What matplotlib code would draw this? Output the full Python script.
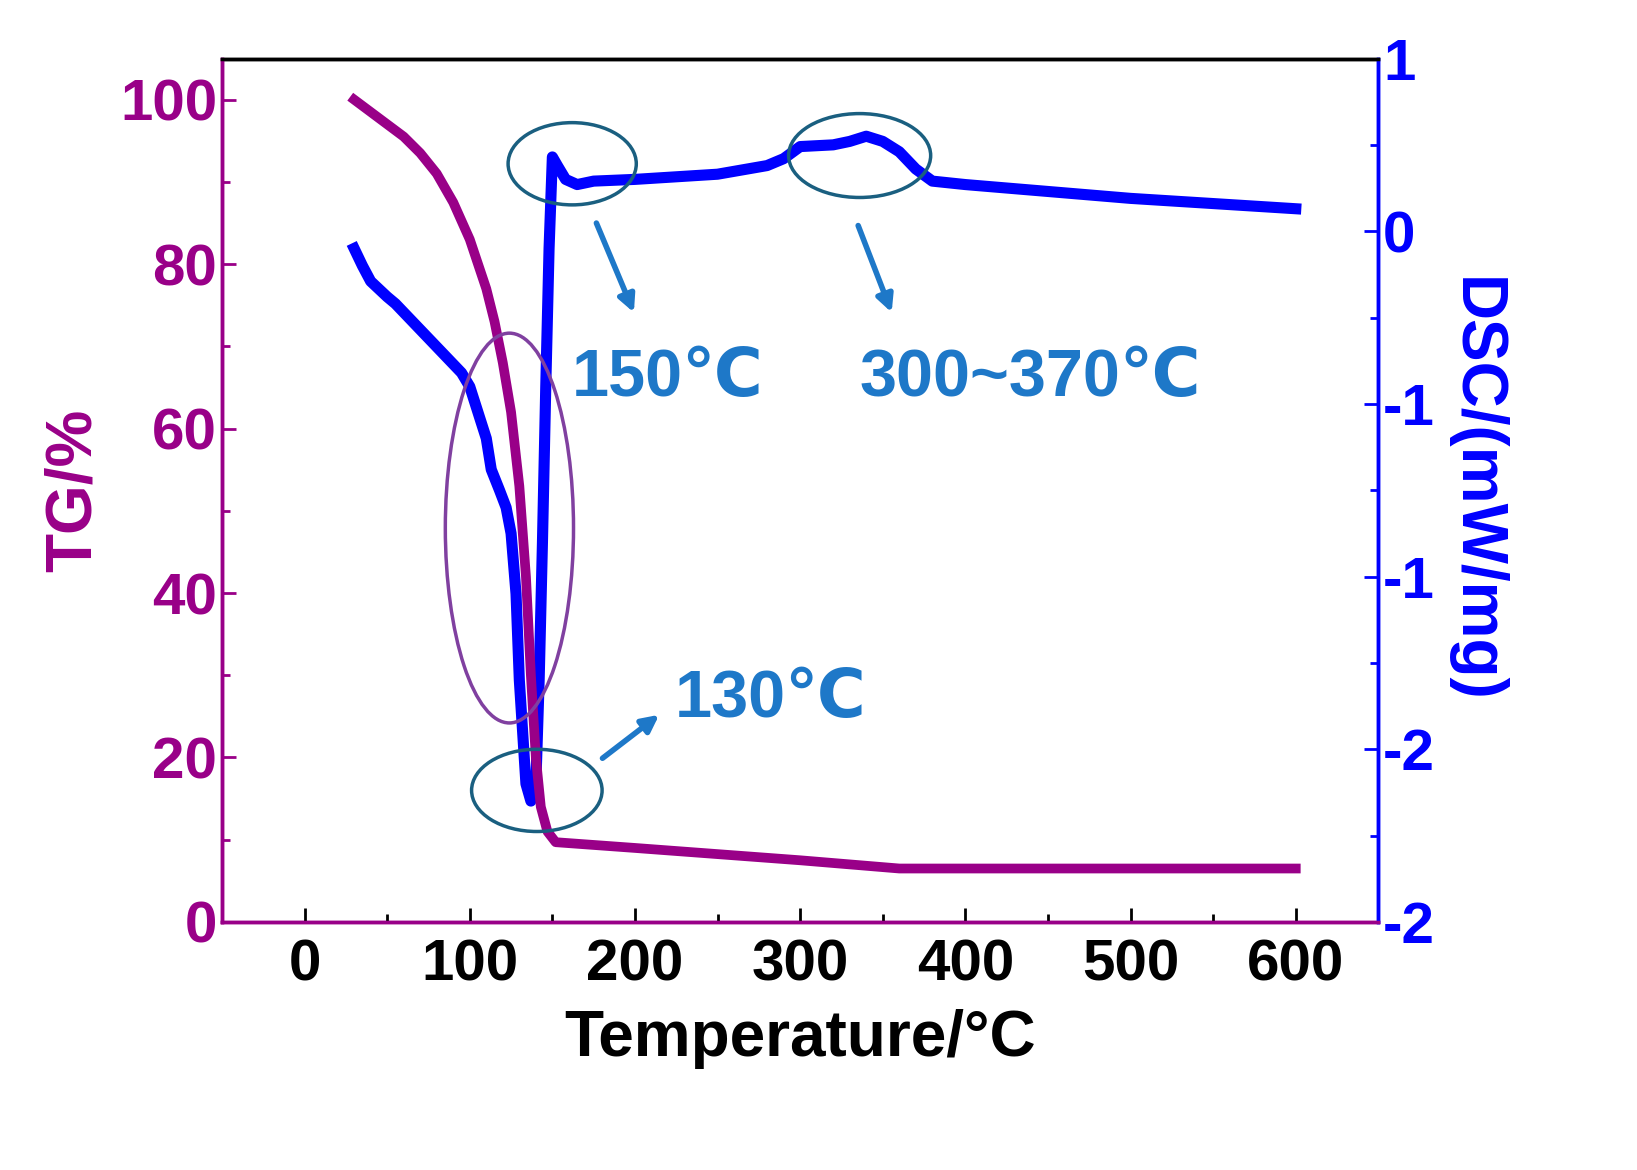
import matplotlib
matplotlib.use("Agg")
import matplotlib.pyplot as plt
from matplotlib.patches import Ellipse
from matplotlib.ticker import MultipleLocator

plt.rcParams['font.family'] = ['Liberation Sans', 'DejaVu Sans']
plt.rcParams['font.weight'] = 'bold'

tg_T = [30, 40, 50, 60, 70, 80, 90, 100, 110, 115, 120, 125, 130, 134, 137, 140, 143, 147, 152,
        200, 300, 360, 600]
tg_v = [100, 98.5, 97, 95.5, 93.5, 91, 87.5, 83, 77, 73, 68, 62, 53, 42, 30, 20, 14, 11, 9.7,
        9, 7.5, 6.5, 6.5]
dsc_T = [30, 35, 40, 50, 55, 65, 75, 85, 95, 100, 105, 110, 113, 118, 122, 125, 128, 130, 132, 134,
         137, 140, 142, 144, 146, 148, 150, 153, 158, 165, 175, 200, 250, 280, 290, 300, 320, 330,
         340, 350, 360, 370, 380, 400, 450, 500, 550, 600]
dsc_v = [-0.1, -0.2, -0.29, -0.38, -0.42, -0.52, -0.62, -0.72, -0.82, -0.9, -1.05, -1.2, -1.38, -1.5,
         -1.6, -1.75, -2.1, -2.6, -2.9, -3.2, -3.3, -3.2, -2.6, -1.8, -0.9, -0.1, 0.43, 0.38, 0.3, 0.27,
         0.29, 0.3, 0.33, 0.38, 0.42, 0.49, 0.5, 0.52, 0.55, 0.52, 0.46, 0.36, 0.29, 0.27, 0.23, 0.19,
         0.16, 0.13]
dsc_ticks = [1, 0, -1, -2, -3, -4]
dsc_labels = ['1', '0', '-1', '-1', '-2', '-2']

purple = '#990088'
blue = '#0000ff'
ann = '#1e78c8'

fig = plt.figure(figsize=(16.37, 11.7), dpi=100)
ax = fig.add_axes([0.1356, 0.212, 0.7064, 0.738])
ax2 = ax.twinx()

ax.plot(tg_T, tg_v, color=purple, lw=7, zorder=3)
ax2.plot(dsc_T, dsc_v, color=blue, lw=8)
ax.set_zorder(ax2.get_zorder() + 1)
ax.patch.set_visible(False)

ax.set_xlim(-50, 650)
ax.set_ylim(0, 105)
ax2.set_ylim(-4, 1)
ax.xaxis.set_major_locator(MultipleLocator(100))
ax.xaxis.set_minor_locator(MultipleLocator(50))
ax.yaxis.set_major_locator(MultipleLocator(20))
ax.yaxis.set_minor_locator(MultipleLocator(10))
ax2.set_yticks(dsc_ticks)
ax2.set_yticklabels(dsc_labels)
ax2.yaxis.set_minor_locator(MultipleLocator(0.5))

ax.tick_params(axis='x', which='both', direction='in', labelsize=42, pad=12, colors='black')
ax.tick_params(axis='x', which='major', length=10, width=2)
ax.tick_params(axis='x', which='minor', length=6, width=2)
ax.tick_params(axis='y', which='both', direction='in', labelsize=42, colors=purple, width=2)
ax.tick_params(axis='y', which='major', length=10)
ax.tick_params(axis='y', which='minor', length=6)
ax2.tick_params(axis='y', which='both', direction='in', labelsize=42, colors=blue, width=2)
ax2.tick_params(axis='y', which='major', length=10)
ax2.tick_params(axis='y', which='minor', length=6)
for lab in ax.get_xticklabels() + ax.get_yticklabels() + ax2.get_yticklabels():
    lab.set_fontweight('bold')

for a in (ax, ax2):
    a.spines['left'].set_color(purple)
    a.spines['right'].set_color(blue)
    a.spines['bottom'].set_color(purple)
    for s in a.spines.values():
        s.set_linewidth(2.5)

ax.set_xlabel('Temperature/°C', fontsize=46, fontweight='bold', labelpad=12)
ax.set_ylabel('TG/%', fontsize=46, fontweight='bold', color=purple, labelpad=12)
ax2.set_ylabel('DSC/(mW/mg)', fontsize=46, fontweight='bold', color=blue, rotation=270, labelpad=50)

for (cx, cy, w, h, c) in [(162, 92.2, 77.6, 10, '#1a5f80'), (336, 93.2, 86, 10.2, '#1a5f80'),
                          (124, 47.9, 77.6, 47.4, '#8040a0'), (140.6, 16, 79, 10, '#1a5f80')]:
    ax.add_patch(Ellipse((cx, cy), w, h, fill=False, edgecolor=c, lw=2.5, zorder=4))

for (x0, y0, x1, y1) in [(176, 85.3, 200, 73.8), (334.5, 85, 356, 73.8), (179, 19.7, 216, 25.4)]:
    ax.annotate('', xy=(x1, y1), xytext=(x0, y0),
                arrowprops=dict(arrowstyle='-|>,head_width=0.5,head_length=1', color=ann, lw=4))

ax.text(220, 66, '150℃', fontsize=48, fontweight='bold', color=ann, ha='center', va='center')
ax.text(439, 66, '300~370℃', fontsize=48, fontweight='bold', color=ann, ha='center', va='center')
ax.text(282, 27, '130℃', fontsize=48, fontweight='bold', color=ann, ha='center', va='center')

fig.savefig('out.png', dpi=100)
